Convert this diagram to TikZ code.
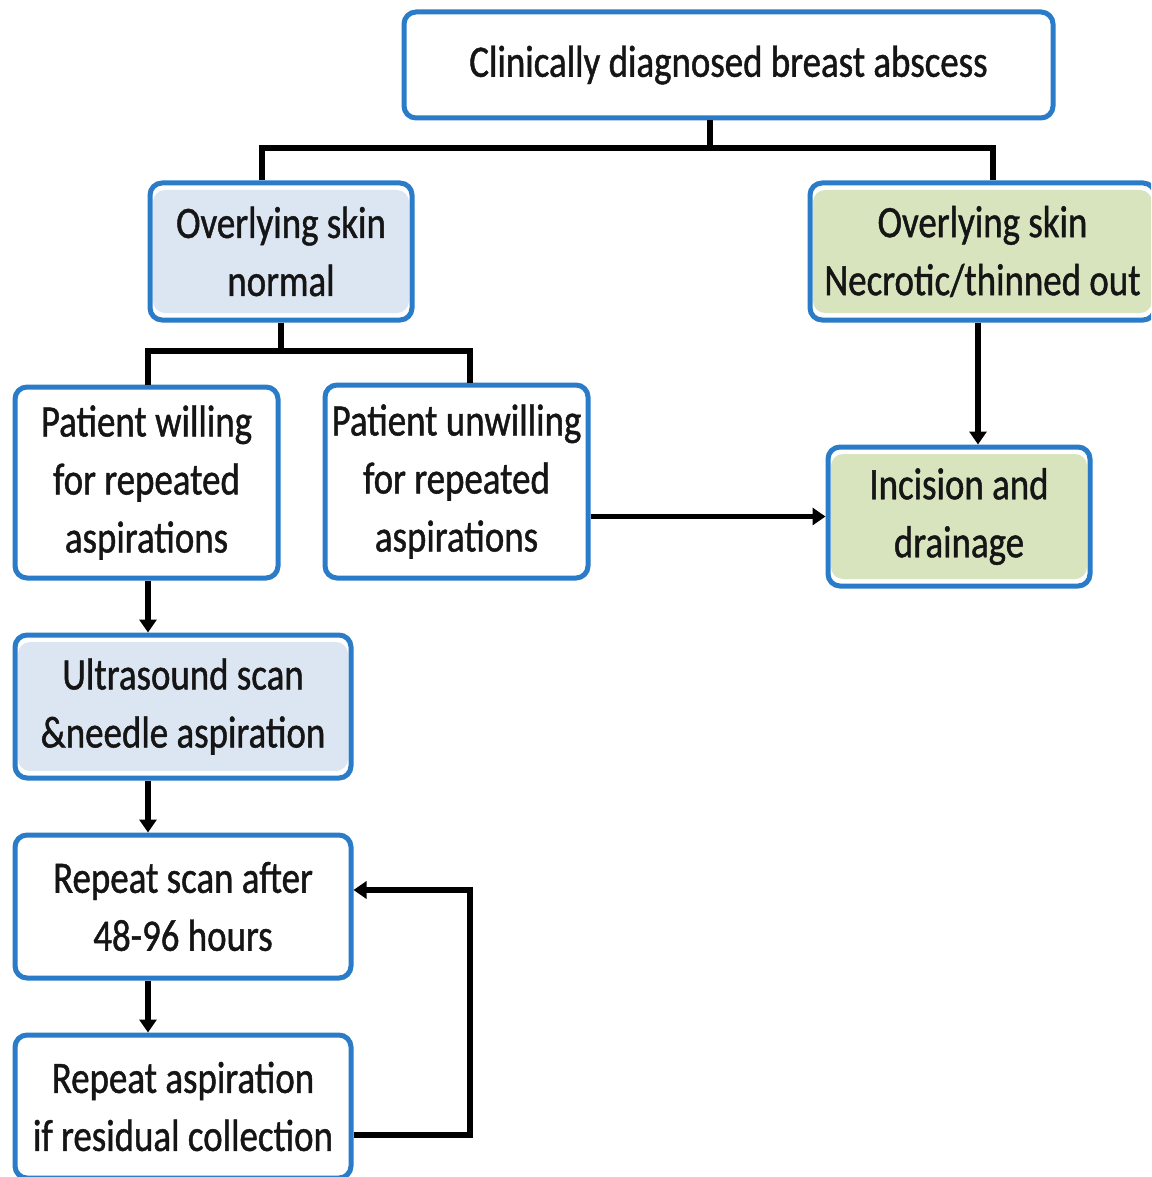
\documentclass[tikz,border=0pt]{standalone}
\usepackage{fontspec}
\setmainfont[FakeStretch=0.82,FakeBold=1]{Carlito}
\usetikzlibrary{arrows.meta}
\definecolor{bord}{HTML}{2B7CC8}
\definecolor{bfill}{HTML}{DCE6F2}
\definecolor{gfill}{HTML}{D7E4BD}
\definecolor{txt}{HTML}{151515}
\tikzset{
  box/.style={draw=bord, line width=5pt, rounded corners=12pt, fill=white,
    align=center, text=txt, font=\fontsize{45}{58}\selectfont, inner sep=0pt},
  bluebox/.style={box, path picture={\fill[bfill]
    ([shift={(3pt,-7pt)}]path picture bounding box.north west) rectangle
    ([shift={(-3pt,7pt)}]path picture bounding box.south east);}},
  greenbox/.style={box, path picture={\fill[gfill]
    ([shift={(3pt,-7pt)}]path picture bounding box.north west) rectangle
    ([shift={(-3pt,7pt)}]path picture bounding box.south east);}},
  conn/.style={line width=5.5pt, black, line join=miter},
  arr/.style={conn, -{Triangle[length=13pt,width=17pt]}}
}
\begin{document}
\begin{tikzpicture}[x=1pt,y=-1pt]
\path[use as bounding box, clip] (0,0) rectangle (1151,1177);
\fill[white] (0,0) rectangle (1151,1177);

\node[box, minimum width=649pt, minimum height=106pt] (top) at (728.5,65) {Clinically diagnosed breast abscess};
\node[bluebox, minimum width=262pt, minimum height=137pt] (normal) at (281,251.5) {Overlying skin\\normal};
\node[greenbox, minimum width=345pt, minimum height=137pt] (necro) at (982.5,251.5) {Overlying skin\\Necrotic/thinned out};
\node[box, minimum width=263pt, minimum height=191pt] (will) at (146.5,482.5) {Patient willing\\for repeated\\aspirations};
\node[box, minimum width=263pt, minimum height=193pt] (unwill) at (456.5,481.5) {Patient unwilling\\for repeated\\aspirations};
\node[greenbox, minimum width=262pt, minimum height=139pt] (incis) at (959,516.5) {Incision and\\drainage};
\node[bluebox, minimum width=336pt, minimum height=143pt] (us) at (183,706.5) {Ultrasound scan\\\&needle aspiration};
\node[box, minimum width=336pt, minimum height=143pt] (rscan) at (183,906.5) {Repeat scan after\\48-96 hours};
\node[box, minimum width=336pt, minimum height=143pt] (rasp) at (183,1106.5) {Repeat aspiration\\if residual collection};

\coordinate (j1) at (710,148);
\coordinate (hL) at (262,148);
\coordinate (hR) at (993,148);
\draw[conn] (top.south -| j1) -- (j1);
\draw[conn] (normal.north -| hL) -- (hL) -- (hR) -- (necro.north -| hR);

\coordinate (k1) at (281,351);
\coordinate (kL) at (148,351);
\coordinate (kR) at (470,351);
\draw[conn] (normal.south) -- (normal.south |- k1);
\draw[conn] (will.north -| kL) -- (kL) -- (kR) -- (unwill.north -| kR);

\coordinate (v1) at (978,0);
\draw[arr] (necro.south -| v1) -- (incis.north -| v1);
\draw[arr] (unwill.east |- incis.west) -- (incis.west);

\coordinate (v2) at (148,0);
\draw[arr] (will.south -| v2) -- (us.north -| v2);
\draw[arr] (us.south -| v2) -- (rscan.north -| v2);
\draw[arr] (rscan.south -| v2) -- (rasp.north -| v2);

\coordinate (fb1) at (470,1135);
\coordinate (fb2) at (470,890);
\draw[arr] (rasp.east |- fb1) -- (fb1) -- (fb2) -- (rscan.east |- fb2);
\end{tikzpicture}
\end{document}
